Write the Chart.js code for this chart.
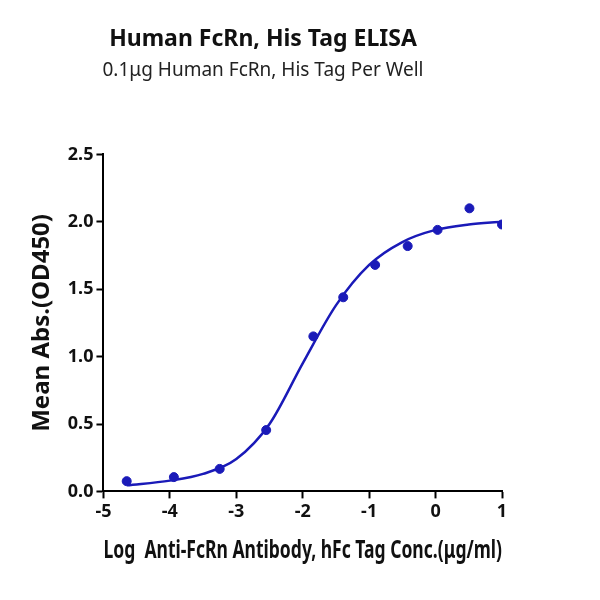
<!DOCTYPE html>
<html><head><script src="https://cdn.jsdelivr.net/npm/chart.js@4"></script>
<style>body{margin:0;background:#fff}#w{width:600px;height:600px}</style></head>
<body><div id="w"><canvas id="c"></canvas></div>
<script>
const pointX=[-4.65,-3.94,-3.25,-2.55,-1.84,-1.39,-0.91,-0.42,0.03,0.51,1.0];
const pointY=[0.076,0.106,0.167,0.455,1.15,1.44,1.68,1.82,1.94,2.10,1.98];
const curveX=[-4.65,-4,-3.5,-3,-2.5,-2,-1.5,-1,-0.5,0,0.5,1];
const curveY=[0.045,0.08,0.13,0.24,0.5,0.95,1.38,1.68,1.85,1.94,1.98,2.0];
const xTicks=[-5,-4,-3,-2,-1,0,1];
const yTicks=[0,0.5,1,1.5,2,2.5];
const F='"Noto Sans", sans-serif';
const gridOpt={display:true,drawOnChartArea:false,drawTicks:true,tickLength:7,tickColor:'#000',tickWidth:2};
new Chart(document.getElementById('c'),{
 type:'scatter',
 data:{datasets:[
  {data:pointX.map((x,i)=>({x,y:pointY[i]})),backgroundColor:'#1a1ab8',borderColor:'#1a1ab8',pointRadius:4.5},
  {type:'line',data:curveX.map((x,i)=>({x,y:curveY[i]})),borderColor:'#1a1ab8',borderWidth:2.5,pointRadius:0,tension:0.4,cubicInterpolationMode:'monotone',fill:false}
 ]},
 options:{responsive:true,maintainAspectRatio:false,animation:false,
  layout:{padding:{left:24,right:98,top:8,bottom:30}},
  plugins:{legend:{display:false},tooltip:{enabled:false},
   title:{display:true,text:'Human FcRn, His Tag ELISA',color:'#111',font:{family:F,size:23,weight:'bold'},padding:{top:18,bottom:6}},
   subtitle:{display:true,text:'0.1μg Human FcRn, His Tag Per Well',color:'#222',font:{family:F,size:19},padding:{bottom:72}}},
  scales:{
   x:{type:'linear',min:-5,max:1,afterBuildTicks:a=>{a.ticks=xTicks.map(v=>({value:v}))},
    grid:gridOpt,border:{color:'#000',width:2},
    ticks:{color:'#111',font:{family:F,size:18,weight:'bold'}},
    title:{display:true,text:'Log  Anti-FcRn Antibody, hFc Tag Conc.(μg/ml)',color:'#111',font:{family:F,size:25,weight:'bold'},padding:{top:10}}},
   y:{min:0,max:2.5,afterBuildTicks:a=>{a.ticks=yTicks.map(v=>({value:v}))},
    grid:gridOpt,border:{color:'#000',width:2},
    ticks:{color:'#111',font:{family:F,size:18,weight:'bold'},callback:v=>v.toFixed(1)},
    title:{display:true,text:'Mean Abs.(OD450)',color:'#111',font:{family:F,size:24,weight:'bold'},padding:{bottom:8}}}
  }}
});
</script></body></html>
